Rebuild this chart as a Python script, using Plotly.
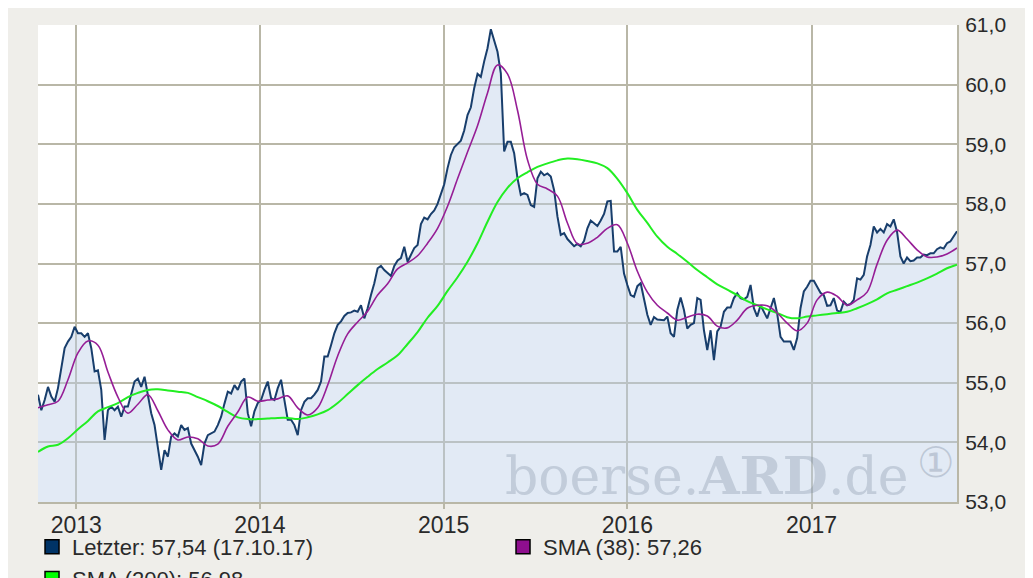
import pandas as pd
import plotly.graph_objects as go

# ---------------- data ----------------
start_date = "2012-10-17"
end_date = "2017-10-17"

letzter = [
    # late 2012 - 2013
    54.80, 54.54, 54.71, 54.93, 54.77, 54.68, 54.91, 55.27, 55.58, 55.69,
    55.77, 55.94, 55.83, 55.83, 55.77, 55.83, 55.58, 55.19, 55.21, 54.88,
    54.04, 54.54, 54.60, 54.54, 54.60, 54.43, 54.60, 54.60, 54.79, 55.02,
    55.07, 54.93, 55.10, 54.82, 54.49, 54.29, 53.93, 53.54, 53.87, 53.76,
    54.10, 54.15, 54.10, 54.29, 54.21, 54.24, 53.98, 53.87, 53.76, 53.62,
    53.98, 54.12, 54.15, 54.18, 54.29, 54.43, 54.65, 54.85,
    # 2014
    54.82, 54.96, 54.88, 55.02, 55.07, 54.49, 54.27, 54.52, 54.66, 54.71,
    54.88, 55.02, 54.74, 54.71, 54.91, 55.05, 54.71, 54.38, 54.38, 54.29,
    54.12, 54.54, 54.68, 54.74, 54.74, 54.80, 54.88, 55.02, 55.44, 55.44,
    55.63, 55.83, 55.97, 56.03, 56.12, 56.17, 56.18, 56.21, 56.19, 56.30,
    56.08, 56.25, 56.47, 56.67, 56.92, 56.96, 56.89, 56.84, 56.79, 56.96,
    57.05, 57.09, 57.28, 57.03, 57.14, 57.26, 57.31,
    # 2015
    57.66, 57.77, 57.74, 57.83, 57.89, 58.00, 58.17, 58.33, 58.60, 58.82,
    58.95, 59.00, 59.06, 59.23, 59.49, 59.62, 59.94, 60.18, 60.13, 60.39,
    60.61, 60.93, 60.72, 60.55, 60.19, 58.88, 59.04, 59.04, 58.85, 58.43,
    58.15, 58.18, 58.15, 57.98, 57.95, 58.43, 58.54, 58.48, 58.51, 58.46,
    58.23, 57.79, 57.48, 57.51, 57.41, 57.35, 57.29, 57.33, 57.29, 57.38,
    57.59, 57.72, 57.67, 57.63, 57.72, 57.83, 58.04, 58.05,
    # 2016
    57.20, 57.20, 57.28, 56.83, 56.64, 56.47, 56.44, 56.62, 56.67, 56.42,
    56.14, 55.97, 56.10, 56.06, 56.06, 56.05, 56.11, 55.83, 55.77, 56.22,
    56.43, 56.22, 55.91, 55.97, 56.00, 56.42, 56.39, 55.88, 55.55, 55.88,
    55.38, 55.86, 55.94, 56.19, 56.26, 56.26, 56.42, 56.50, 56.42, 56.40,
    56.44, 56.64, 56.25, 56.11, 56.30, 56.19, 56.08, 56.25, 56.42, 56.16,
    55.77, 55.69, 55.69, 55.69, 55.55, 55.75, 56.25,
    # 2017
    56.53, 56.61, 56.71, 56.71, 56.60, 56.51, 56.47, 56.29, 56.30, 56.42,
    56.21, 56.19, 56.36, 56.30, 56.32, 56.39, 56.75, 56.73, 56.81, 57.12,
    57.31, 57.62, 57.52, 57.58, 57.52, 57.66, 57.62, 57.74, 57.53, 57.12,
    57.00, 57.10, 57.04, 57.05, 57.10, 57.10, 57.15, 57.14, 57.17, 57.17,
    57.24, 57.27, 57.25, 57.34, 57.37, 57.46, 57.54,
]

sma38 = [
    54.58, 54.63, 54.69, 55.05, 55.50, 55.70, 55.63, 55.18, 54.76, 54.49,
    54.64, 54.80, 54.53, 54.21, 54.04, 54.09, 54.06, 53.94, 53.97, 54.27,
    54.51, 54.76, 54.69, 54.71, 54.73, 54.78, 54.58, 54.46, 54.58, 54.96,
    55.45, 55.82, 56.02, 56.20, 56.47, 56.66, 56.91, 57.01, 57.13, 57.34,
    57.59, 57.96, 58.42, 58.87, 59.31, 59.86, 60.33, 60.18, 59.57, 58.74,
    58.33, 58.25, 58.13, 57.68, 57.33, 57.34, 57.44, 57.59, 57.65, 57.34,
    56.87, 56.52, 56.30, 56.17, 56.05, 56.10, 56.15, 56.12, 55.95, 55.92,
    56.05, 56.25, 56.30, 56.29, 56.17, 56.00, 55.87, 56.00, 56.39, 56.52,
    56.45, 56.30, 56.39, 56.52, 56.99, 57.39, 57.56, 57.41, 57.23, 57.11,
    57.11, 57.16, 57.26,
]

sma200 = [
    53.84, 53.93, 53.96, 54.07, 54.22, 54.36, 54.52, 54.59, 54.66, 54.76,
    54.83, 54.88, 54.89, 54.87, 54.85, 54.83, 54.76, 54.69, 54.61, 54.51,
    54.42, 54.39, 54.39, 54.40, 54.41, 54.41, 54.39, 54.42, 54.47, 54.54,
    54.66, 54.81, 54.96, 55.10, 55.23, 55.34, 55.46, 55.65, 55.85, 56.09,
    56.29, 56.54, 56.77, 57.03, 57.34, 57.70, 58.03, 58.27, 58.43, 58.53,
    58.62, 58.68, 58.73, 58.76, 58.75, 58.72, 58.68, 58.60, 58.42, 58.18,
    57.90, 57.68, 57.45, 57.28, 57.16, 57.03, 56.89, 56.77, 56.65, 56.56,
    56.47, 56.37, 56.30, 56.23, 56.17, 56.10, 56.08, 56.11, 56.13, 56.15,
    56.17, 56.19, 56.25, 56.32, 56.40, 56.50, 56.56, 56.62, 56.68, 56.75,
    56.83, 56.92, 56.98,
]

last_date_label = "17.10.17"

# ---------------- figure ----------------
price_dates = pd.date_range(start_date, end_date, periods=len(letzter))
sma_dates = pd.date_range(start_date, end_date, periods=len(sma38))

def de(v):
    return f"{v:.2f}".replace(".", ",")

GRID = "#B9B7A7"
FONT = "Liberation Sans, Arial, sans-serif"
TXT = "#2a2a2a"

fig = go.Figure()

fig.add_trace(go.Scatter(
    x=price_dates, y=letzter, mode="lines",
    line=dict(color="#183E6C", width=2),
    fill="tozeroy", fillcolor="rgba(190,208,233,0.45)",
    showlegend=False, hoverinfo="skip",
))
fig.add_trace(go.Scatter(
    x=sma_dates, y=sma200, mode="lines", line=dict(color="#22EE22", width=2),
    line_shape="spline", showlegend=False, hoverinfo="skip",
))
fig.add_trace(go.Scatter(
    x=sma_dates, y=sma38, mode="lines", line=dict(color="#961E96", width=1.6),
    line_shape="spline", showlegend=False, hoverinfo="skip",
))

# legend entries (square swatches)
legend_items = [
    (f"Letzter: {de(letzter[-1])} ({last_date_label})", "#003366", "legend"),
    (f"SMA (38): {de(sma38[-1])}", "#8E0E8E", "legend2"),
    (f"SMA (200): {de(sma200[-1])}", "#00FF00", "legend"),
]
for name, col, lg in legend_items:
    fig.add_trace(go.Scatter(
        x=[None], y=[None], mode="markers", name=name, legend=lg,
        marker=dict(symbol="square", size=14, color=col,
                    line=dict(color="black", width=1.5)),
    ))

legend_common = dict(
    orientation="v", yanchor="top", xanchor="left",
    bgcolor="rgba(0,0,0,0)", font=dict(size=22, color=TXT, family=FONT),
    itemclick=False, itemdoubleclick=False, tracegroupgap=0,
)

fig.update_layout(
    width=1033, height=578,
    margin=dict(l=30, r=84, t=17, b=84, pad=0, autoexpand=False),
    paper_bgcolor="#EFEEEA", plot_bgcolor="white",
    separators=",.",
    font=dict(family=FONT, size=21, color=TXT),
    xaxis=dict(
        type="date", range=[start_date, end_date],
        tick0="2013-01-01", dtick="M12", tickformat="%Y",
        showgrid=True, gridcolor=GRID, gridwidth=2,
        ticks="outside", ticklen=5, tickwidth=2, tickcolor=GRID,
        showline=True, linecolor=GRID, linewidth=2, ticklabelstandoff=-4,
        zeroline=False, tickfont=dict(size=23, color=TXT, family=FONT),
        automargin=False,
    ),
    yaxis=dict(
        side="right", range=[53, 61], dtick=1, tickformat=".1f",
        showgrid=True, gridcolor=GRID, gridwidth=2,
        showline=True, linecolor=GRID, linewidth=2,
        ticks="", ticklabelstandoff=2, zeroline=False,
        tickfont=dict(size=21, color=TXT, family=FONT),
        automargin=False,
    ),
    legend=dict(x=-0.0065, y=-0.0503, **legend_common),
    legend2=dict(x=0.506, y=-0.0503, **legend_common),
    annotations=[
        dict(text="boerse.<b>ARD</b>.de", xref="paper", yref="paper",
             x=0.506, y=-0.012, xanchor="left", yanchor="bottom", showarrow=False,
             font=dict(family="DejaVu Serif", size=52, color="rgba(120,135,155,0.30)")),
        dict(text="①", xref="paper", yref="paper",
             x=0.977, y=0.082, xanchor="center", yanchor="middle", showarrow=False,
             font=dict(family="DejaVu Sans", size=42, color="rgba(120,135,155,0.34)")),
    ],
)

fig.write_html("out.html")
